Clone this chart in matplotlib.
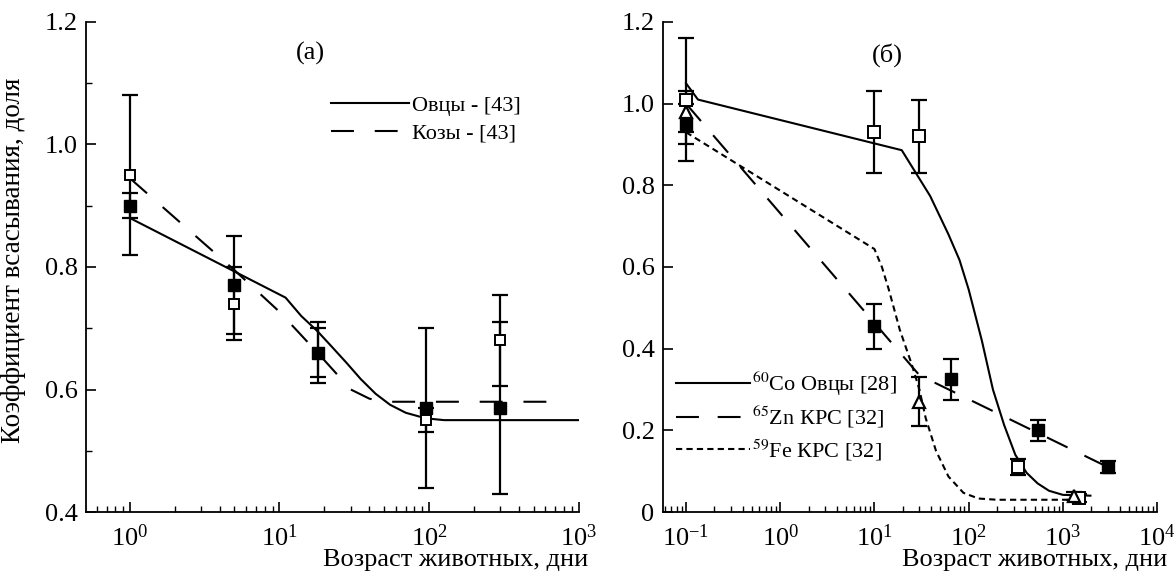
import numpy as np
import matplotlib.pyplot as plt
from matplotlib.ticker import LogLocator, NullFormatter, FixedLocator

plt.rcParams['font.family'] = ['Liberation Serif', 'DejaVu Serif']
plt.rcParams['mathtext.fontset'] = 'stix'

# ------------------------
# Panel (а): sheep / goats
# ------------------------
a_x = [1, 5, 18, 95, 300]
a_sheep = [0.90, 0.77, 0.66, 0.57, 0.57]
a_sheep_err = [0.02, 0.08, 0.05, 0.13, 0.14]
a_goat = [0.95, 0.74, 0.66, 0.55, 0.68]
a_goat_err = [0.13, 0.06, 0.04, 0.02, 0.075]

a_sheep_curve_x = [1, 11, 14, 18, 22, 28, 35, 44, 55, 70, 95, 126, 200, 1000]
a_sheep_curve_y = [0.88, 0.75, 0.72, 0.695, 0.672, 0.644, 0.617, 0.593, 0.575, 0.562, 0.553, 0.55, 0.55, 0.55]
a_goat_curve_x = [1, 5, 10, 18, 30, 40, 50, 750]
a_goat_curve_y = [0.945, 0.795, 0.727, 0.66, 0.60, 0.585, 0.58, 0.58]

# ------------------------
# Panel (б): Co, Zn, Fe
# ------------------------
b_co_x = [0.1, 10, 30, 330, 1500]
b_co = [1.01, 0.93, 0.92, 0.11, 0.035]
b_co_err = [0.15, 0.10, 0.09, 0.02, 0.01]
b_zn_x = [0.1, 10, 65, 550, 3000]
b_zn = [0.95, 0.455, 0.325, 0.20, 0.11]
b_zn_err = [0.05, 0.055, 0.05, 0.025, 0.015]
b_fe_x = [0.1, 30, 1300]
b_fe = [0.98, 0.27, 0.04]
b_fe_err = [0.05, 0.06, 0.01]

b_co_curve_x = [0.1, 0.134, 19.5, 39, 61, 80, 100, 138, 181, 238, 313, 412, 540, 713, 1000, 1960]
b_co_curve_y = [1.05, 1.01, 0.886, 0.774, 0.68, 0.617, 0.545, 0.42, 0.30, 0.213, 0.14, 0.096, 0.07, 0.052, 0.042, 0.04]
b_zn_curve_x = [0.1, 30, 3000]
b_zn_curve_y = [1.0, 0.335, 0.11]
b_fe_curve_x = [0.1, 10, 12, 14.2, 18.6, 24.6, 30, 35, 45, 61, 88, 127, 200, 1365]
b_fe_curve_y = [0.93, 0.644, 0.60, 0.545, 0.446, 0.365, 0.30, 0.23, 0.15, 0.087, 0.047, 0.033, 0.03, 0.03]

a_yticks = [0.4, 0.6, 0.8, 1.0, 1.2]
a_yticklabels = ['0.4', '0.6', '0.8', '1.0', '1.2']
a_yminor = [0.5, 0.7, 0.9, 1.1]
b_yticks = [0, 0.2, 0.4, 0.6, 0.8, 1.0, 1.2]
b_yticklabels = ['0', '0.2', '0.4', '0.6', '0.8', '1.0', '1.2']

ylabel = 'Коэффициент всасывания, доля'
xlabel = 'Возраст животных, дни'

FS = 19
LW = 1.5


def style_axes(ax):
    for s in ['top', 'right']:
        ax.spines[s].set_visible(False)
    for s in ['left', 'bottom']:
        ax.spines[s].set_linewidth(1.3)
    ax.set_xscale('log')
    ax.xaxis.set_major_locator(LogLocator(base=10))
    ax.xaxis.set_minor_locator(LogLocator(base=10, subs=np.arange(2, 10)))
    ax.xaxis.set_minor_formatter(NullFormatter())
    ax.tick_params(which='major', direction='in', length=7, width=1.2, labelsize=FS, pad=6)
    ax.tick_params(which='minor', direction='in', length=4, width=1.0)
    ax.tick_params(axis='x', which='major', pad=9)


def errbars(ax, x, y, err):
    ax.errorbar(x, y, yerr=err, fmt='none', ecolor='black', elinewidth=1.6,
                capsize=6, capthick=1.6, zorder=2)


fig = plt.figure(figsize=(11.74, 5.74), dpi=100)

# ---- left panel
ax1 = fig.add_axes([0.0733, 0.108, 0.4195, 0.8537])
style_axes(ax1)
ax1.plot(a_sheep_curve_x, a_sheep_curve_y, color='black', lw=LW, label='Овцы - [43]', zorder=1)
ax1.plot(a_goat_curve_x, a_goat_curve_y, color='black', lw=LW, dashes=(11, 10), label='Козы - [43]', zorder=1)
errbars(ax1, a_x, a_goat, a_goat_err)
errbars(ax1, a_x, a_sheep, a_sheep_err)
ax1.plot(a_x, a_goat, 's', ms=7, mfc='white', mec='black', mew=1.4, ls='none', zorder=3)
ax1.plot(a_x, a_sheep, 's', ms=8, mfc='black', mec='black', ls='none', zorder=4)
ax1.set_xlim(0.51, 1000)
ax1.set_ylim(0.4, 1.2)
ax1.yaxis.set_major_locator(FixedLocator(a_yticks))
ax1.set_yticklabels(a_yticklabels)
ax1.yaxis.set_minor_locator(FixedLocator(a_yminor))
ax1.set_ylabel(ylabel, fontsize=19.5)
ax1.yaxis.set_label_coords(-0.122, 0.514)
ax1.set_xlabel(xlabel, fontsize=FS, ha='right', va='center')
ax1.xaxis.set_label_coords(1.02, -0.098)
ax1.text(0.455, 0.935, '(а)', transform=ax1.transAxes, fontsize=FS, ha='center', va='center')
ax1.legend(loc='center left', bbox_to_anchor=(0.497, 0.801), frameon=False, fontsize=16,
           handlelength=3.5, handletextpad=0.15, labelspacing=0.3, borderpad=0, borderaxespad=0)

# ---- right panel
ax2 = fig.add_axes([0.5646, 0.108, 0.421, 0.8537])
style_axes(ax2)
ax2.plot(b_co_curve_x, b_co_curve_y, color='black', lw=LW, label='$^{60}$Co Овцы [28]', zorder=1)
ax2.plot(b_zn_curve_x, b_zn_curve_y, color='black', lw=LW, dashes=(11, 9), label='$^{65}$Zn КРС [32]', zorder=1)
ax2.plot(b_fe_curve_x, b_fe_curve_y, color='black', lw=LW, dashes=(3, 2), label='$^{59}$Fe КРС [32]', zorder=1)
errbars(ax2, b_co_x, b_co, b_co_err)
errbars(ax2, b_zn_x, b_zn, b_zn_err)
errbars(ax2, b_fe_x, b_fe, b_fe_err)
ax2.plot(b_co_x, b_co, 's', ms=8, mfc='white', mec='black', mew=1.4, ls='none', zorder=3)
ax2.plot(b_zn_x, b_zn, 's', ms=8, mfc='black', mec='black', ls='none', zorder=4)
ax2.plot(b_fe_x, b_fe, '^', ms=9, mfc='white', mec='black', mew=1.6, ls='none', zorder=3)
ax2.set_xlim(0.0568, 10000)
ax2.set_ylim(0, 1.2)
ax2.yaxis.set_major_locator(FixedLocator(b_yticks))
ax2.set_yticklabels(b_yticklabels)
ax2.set_xlabel(xlabel, fontsize=FS, ha='right', va='center')
ax2.xaxis.set_label_coords(1.02, -0.098)
ax2.text(0.454, 0.933, '(б)', transform=ax2.transAxes, fontsize=FS, ha='center', va='center')
ax2.legend(loc='center left', bbox_to_anchor=(0.027, 0.196), frameon=False, fontsize=16,
           handlelength=3.3, handletextpad=0.1, labelspacing=0.3, borderpad=0, borderaxespad=0)

fig.savefig('out.png', dpi=100)
